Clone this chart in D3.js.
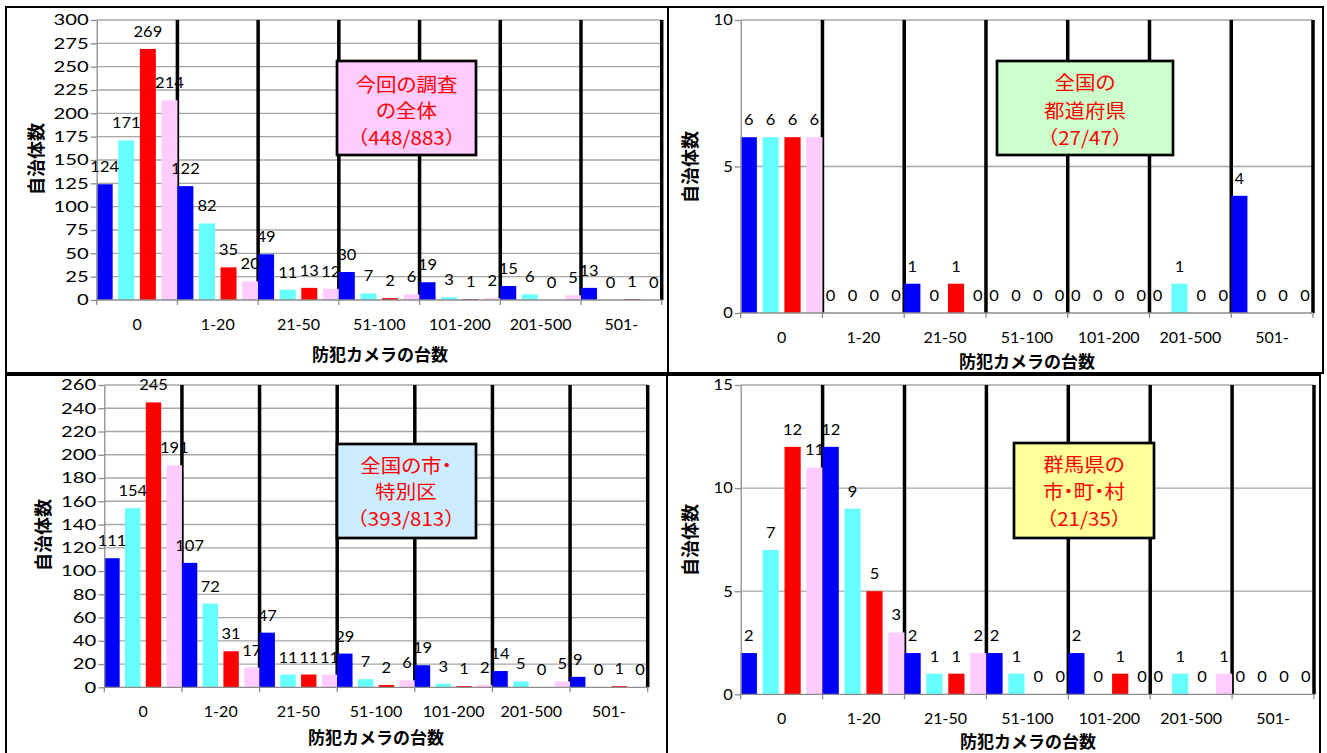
<!DOCTYPE html>
<html>
<head>
<meta charset="utf-8">
<script src="https://cdn.jsdelivr.net/npm/d3@7"></script>
<style>
  body { margin: 0; background: #fff; }
  text { font-family: Lato, "Noto Sans", sans-serif; }
  .jp { font-family: "Noto Sans CJK JP", sans-serif; }
  .palt { font-feature-settings: "palt" 1; }
</style>
</head>
<body>
<svg id="chart" width="1327" height="753"></svg>
<script>
// camera-count bands on the x axis
const categories = ['0', '1-20', '21-50', '51-100', '101-200', '201-500', '501-'];
const seriesKeys = ['s1', 's2', 's3', 's4'];
const seriesColors = ['#0000FF', '#66FFFF', '#FF0000', '#FFCCFF'];

// one row per category, one value per series (blue, cyan, red, pink)
const surveyAll = [
    [124, 171, 269, 214],
    [122, 82, 35, 20],
    [49, 11, 13, 12],
    [30, 7, 2, 6],
    [19, 3, 1, 2],
    [15, 6, 0, 5],
    [13, 0, 1, 0]
];
const prefectures = [
    [6, 6, 6, 6],
    [0, 0, 0, 0],
    [1, 0, 1, 0],
    [0, 0, 0, 0],
    [0, 0, 0, 0],
    [0, 1, 0, 0],
    [4, 0, 0, 0]
];
const citiesWards = [
    [111, 154, 245, 191],
    [107, 72, 31, 17],
    [47, 11, 11, 11],
    [29, 7, 2, 6],
    [19, 3, 1, 2],
    [14, 5, 0, 5],
    [9, 0, 1, 0]
];
const gunmaTowns = [
    [2, 7, 12, 11],
    [12, 9, 5, 3],
    [2, 1, 1, 2],
    [2, 1, 0, 0],
    [2, 0, 1, 0],
    [0, 1, 0, 1],
    [0, 0, 0, 0]
];

const boxSurveyAll = ['今回の調査', 'の全体', '（448/883）'];
const boxPrefectures = ['全国の', '都道府県', '（27/47）'];
const boxCities = ['全国の市・', '特別区', '（393/813）'];
const boxGunma = ['群馬県の', '市・町・村', '（21/35）'];

const xTitle = '防犯カメラの台数';
const yTitle = '自治体数';

const svg = d3.select('#chart');

// panel frames
const frames = [
    [6, 7, 662, 366],
    [668, 7, 655, 366],
    [6, 375, 661, 390],
    [667, 375, 653, 390]
];
frames.forEach(f => {
    svg.append('rect')
        .attr('x', f[0]).attr('y', f[1])
        .attr('width', f[2]).attr('height', f[3])
        .attr('fill', 'none')
        .attr('stroke', '#000')
        .attr('stroke-width', 2);
});

// text stretched horizontally around its anchor point
function sText(g, x, y, str, sx) {
    return g.append('text')
        .attr('transform', `translate(${x},${y}) scale(${sx},1)`)
        .text(str);
}

function drawPanel(p) {
    const g = svg.append('g');

    const x0 = d3.scaleBand()
        .domain(categories)
        .range([p.left, p.right])
        .padding(0);

    const x1 = d3.scaleBand()
        .domain(seriesKeys)
        .range([0, x0.bandwidth()])
        .paddingInner(0.26)
        .paddingOuter(0);

    const y = d3.scaleLinear()
        .domain([0, p.yMax])
        .range([p.bottom, p.top]);

    const ticks = d3.range(0, p.yMax + 1, p.yStep);

    // horizontal gridlines
    g.append('g').selectAll('line')
        .data(ticks.filter(t => t > 0))
        .join('line')
        .attr('x1', p.left).attr('x2', p.right)
        .attr('y1', d => y(d)).attr('y2', d => y(d))
        .attr('stroke', '#A6A6A6')
        .attr('stroke-width', 1.3);

    // heavy black separators between the bands
    g.append('g').selectAll('line')
        .data(categories.slice(1).map(c => x0(c)).concat([p.right]))
        .join('line')
        .attr('x1', d => d).attr('x2', d => d)
        .attr('y1', p.top).attr('y2', p.bottom)
        .attr('stroke', '#000')
        .attr('stroke-width', 3.5);

    // bars
    const groups = g.append('g').selectAll('g')
        .data(p.data)
        .join('g')
        .attr('transform', (d, i) => `translate(${x0(categories[i])},0)`);

    groups.selectAll('rect')
        .data(d => d.map((v, j) => ({ key: seriesKeys[j], value: v, color: seriesColors[j] })))
        .join('rect')
        .attr('x', d => x1(d.key))
        .attr('width', x1.bandwidth())
        .attr('y', d => y(d.value))
        .attr('height', d => p.bottom - y(d.value))
        .attr('fill', d => d.color);

    // y axis
    const yAxis = g.append('g')
        .attr('transform', `translate(${p.left},0)`)
        .call(d3.axisLeft(y).tickValues(ticks).tickSize(6).tickSizeOuter(0));
    yAxis.select('.domain').attr('stroke', '#8C8C8C').attr('stroke-width', 1.3);
    yAxis.selectAll('.tick line').attr('stroke', '#8C8C8C').attr('stroke-width', 1.3);
    yAxis.selectAll('.tick text')
        .attr('x', null)
        .attr('font-family', 'Lato, sans-serif')
        .attr('font-size', 15)
        .attr('fill', '#000')
        .attr('transform', `translate(-8,0) scale(${p.tickSx},1)`);

    // x axis baseline and boundary ticks
    g.append('line')
        .attr('x1', p.left).attr('x2', p.right)
        .attr('y1', p.bottom).attr('y2', p.bottom)
        .attr('stroke', '#8C8C8C')
        .attr('stroke-width', 1.3);
    g.append('g').selectAll('line')
        .data(categories.map(c => x0(c)).concat([p.right]))
        .join('line')
        .attr('x1', d => d).attr('x2', d => d)
        .attr('y1', p.bottom).attr('y2', p.bottom + 5)
        .attr('stroke', '#8C8C8C')
        .attr('stroke-width', 1.3);

    // category labels
    categories.forEach(c => {
        sText(g, x0(c) + x0.bandwidth() / 2, p.bottom + 30, c, 1.07)
            .attr('font-size', 15)
            .attr('text-anchor', 'middle');
    });

    // data labels
    p.data.forEach((row, i) => {
        row.forEach((v, j) => {
            const cx = x0(categories[i]) + x1(seriesKeys[j]) + x1.bandwidth() / 2;
            sText(g, cx, y(v) - 12, v, 1.1)
                .attr('font-size', 15)
                .attr('text-anchor', 'middle');
        });
    });

    // axis titles
    g.append('text')
        .attr('class', 'jp')
        .attr('x', p.titleX).attr('y', p.titleY)
        .attr('text-anchor', 'middle')
        .attr('dominant-baseline', 'central')
        .attr('font-size', 17)
        .attr('font-weight', 'bold')
        .text(xTitle);

    g.append('text')
        .attr('class', 'jp')
        .attr('transform', `translate(${p.yTitleX},${p.yTitleY}) rotate(-90)`)
        .attr('text-anchor', 'middle')
        .attr('dominant-baseline', 'central')
        .attr('font-size', 18)
        .attr('font-weight', 'bold')
        .text(yTitle);

    // caption box
    const b = p.box;
    g.append('rect')
        .attr('x', b.x).attr('y', b.y)
        .attr('width', b.w).attr('height', b.h)
        .attr('fill', b.fill)
        .attr('stroke', '#000')
        .attr('stroke-width', 2.7);
    b.lines.forEach((line, i) => {
        sText(g, b.cx, b.ly[i], line, 1.08)
            .attr('class', line.startsWith('（') ? 'jp' : 'jp palt')
            .attr('font-size', 19)
            .attr('fill', '#FF0000')
            .attr('text-anchor', 'middle')
            .attr('dominant-baseline', 'central');
    });
}

drawPanel({
    data: surveyAll, yMax: 300, yStep: 25, tickSx: 1.35,
    left: 96.7, right: 661.7, top: 20, bottom: 300,
    titleX: 380, titleY: 353, yTitleX: 35, yTitleY: 159,
    box: { x: 337, y: 61, w: 139, h: 94, fill: '#FFCCFF', cx: 406.5,
           lines: boxSurveyAll, ly: [83.5, 110, 137] }
});

drawPanel({
    data: prefectures, yMax: 10, yStep: 5, tickSx: 1.1,
    left: 740.7, right: 1313, top: 20, bottom: 313,
    titleX: 1027, titleY: 360, yTitleX: 689, yTitleY: 167,
    box: { x: 997, y: 61, w: 176, h: 94, fill: '#CCFFCC', cx: 1085,
           lines: boxPrefectures, ly: [81.7, 110, 136.7] }
});

drawPanel({
    data: citiesWards, yMax: 260, yStep: 20, tickSx: 1.35,
    left: 104.3, right: 647.7, top: 385, bottom: 687.3,
    titleX: 376, titleY: 736, yTitleX: 42, yTitleY: 535,
    box: { x: 337, y: 444, w: 139, h: 94, fill: '#CCECFF', cx: 406,
           lines: boxCities, ly: [464.5, 491, 517.5] }
});

drawPanel({
    data: gunmaTowns, yMax: 15, yStep: 5, tickSx: 1.1,
    left: 740.7, right: 1314, top: 385, bottom: 694.3,
    titleX: 1028, titleY: 740, yTitleX: 689, yTitleY: 540,
    box: { x: 1014, y: 443, w: 140, h: 95, fill: '#FFFF99', cx: 1084,
           lines: boxGunma, ly: [463.5, 491, 517.5] }
});
</script>
</body>
</html>
